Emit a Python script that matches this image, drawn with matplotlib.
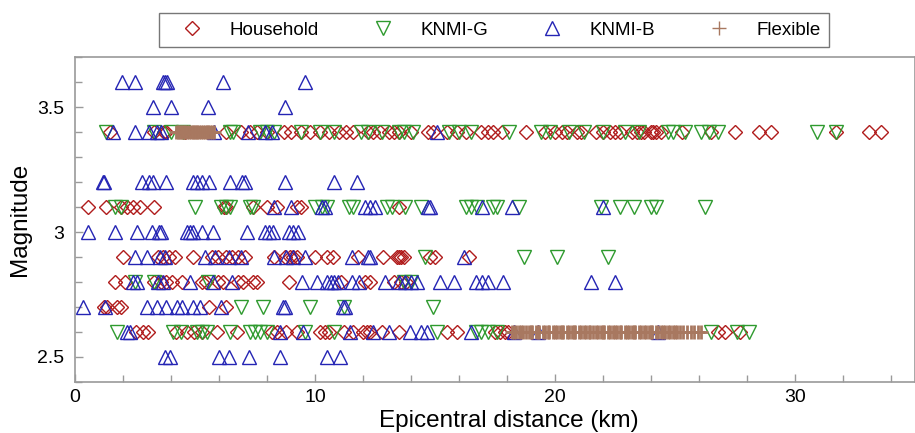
import numpy as np
import matplotlib
matplotlib.use("Agg")
import matplotlib.pyplot as plt
from matplotlib.ticker import MultipleLocator

plt.rcParams["font.family"] = ["Liberation Sans", "DejaVu Sans"]

# === Data: epicentral distance (km) per magnitude level ===
household = {
    3.4: [1.45, 3.3, 3.7, 3.8, 4.6, 6.3, 6.9, 7.3, 7.6, 8.0, 8.7, 9.0, 9.4, 9.8, 10.2, 10.6,
          11.0, 11.3, 11.6, 12.2, 12.4, 12.7, 13.1, 13.3, 13.5, 14.0, 14.7, 14.9, 15.5, 15.9,
          16.3, 16.9, 17.2, 17.4, 17.8, 18.8, 19.6, 20.0, 20.3, 20.5, 20.9, 21.1, 21.7, 22.0,
          22.3, 22.5, 22.7, 23.2, 23.4, 23.6, 23.7, 24.0, 24.1, 24.2, 24.4, 25.3, 26.5, 27.5,
          28.5, 29.0, 31.7, 33.1, 33.6],
    3.1: [0.55, 1.3, 1.9, 2.15, 2.4, 2.7, 3.3, 6.2, 6.3, 7.4, 8.0, 8.4, 9.25, 9.4, 13.5],
    2.9: [2.0, 3.45, 3.65, 3.9, 4.15, 4.9, 5.7, 5.95, 6.3, 6.55, 6.8, 7.1, 8.3, 8.75, 8.95,
          9.1, 9.25, 10.0, 10.5, 10.75, 11.8, 12.85, 13.4, 13.5, 13.6, 13.7, 14.8, 15.0, 16.4],
    2.8: [1.65, 2.1, 3.3, 3.6, 3.8, 4.05, 4.45, 5.3, 5.45, 5.95, 6.15, 6.8, 7.0, 7.4, 7.6,
          8.9, 11.1, 12.1, 12.3, 13.3, 13.6, 13.8],
    2.7: [1.2, 1.35, 1.75, 1.9, 5.6, 6.3],
    2.6: [2.55, 2.85, 3.05, 4.2, 4.65, 4.95, 5.3, 5.9, 6.75, 8.2, 8.4, 8.8, 9.25, 10.2, 10.4,
          10.6, 11.2, 11.6, 12.0, 12.15, 12.3, 12.8, 13.5, 15.5, 15.9, 17.5, 17.7, 17.9, 18.05,
          26.8, 27.1, 27.7],
}

knmi_g = {
    3.4: [1.3, 3.3, 4.0, 4.5, 6.45, 6.6, 7.7, 8.0, 8.3, 9.4, 10.2, 10.8, 11.9, 12.2, 12.8,
          13.5, 13.7, 14.1, 15.6, 16.0, 16.5, 18.1, 19.4, 19.8, 20.6, 21.2, 22.0, 22.9, 23.5,
          24.7, 24.9, 25.4, 26.1, 26.4, 26.8, 30.9, 31.7],
    3.1: [1.65, 1.9, 5.0, 6.1, 6.3, 6.45, 7.3, 7.4, 10.0, 10.3, 10.5, 11.4, 11.6, 13.0, 13.2,
          13.75, 14.4, 16.3, 16.5, 16.75, 17.4, 17.6, 18.5, 21.9, 22.7, 23.3, 24.0, 24.2, 26.25],
    2.9: [14.6, 18.7, 20.1, 22.2],
    2.8: [2.5, 3.3, 5.55, 13.7, 14.0],
    2.7: [6.9, 7.85, 9.8, 11.2, 14.9],
    2.6: [1.75, 4.1, 4.4, 5.1, 5.3, 5.5, 6.45, 7.3, 7.5, 7.7, 8.0, 9.6, 10.8, 15.1, 16.7,
          16.9, 17.2, 17.6, 26.5, 27.6, 28.1],
}

knmi_b = {
    3.6: [1.95, 2.5, 3.68, 3.75, 3.82, 6.18, 9.57],
    3.5: [3.26, 3.99, 5.56, 8.75],
    3.4: [1.6, 2.5, 3.1, 3.4, 3.6, 5.8, 7.2, 7.9, 8.2, 15.1],
    3.2: [1.15, 1.2, 2.8, 3.1, 3.25, 3.8, 4.9, 5.1, 5.3, 5.6, 6.45, 6.95, 7.1, 8.75, 10.8, 11.75],
    3.1: [8.3, 9.0, 10.3, 10.4, 12.1, 12.3, 12.5, 14.7, 14.8, 16.95, 18.2, 22.0],
    3.0: [0.55, 1.65, 2.6, 3.2, 3.5, 3.6, 4.65, 4.8, 4.9, 5.3, 5.75, 7.15, 7.9, 8.1, 8.25,
          8.9, 9.1, 9.3],
    2.9: [2.5, 3.0, 3.55, 3.75, 5.4, 5.85, 6.4, 6.9, 8.3, 8.8, 9.1, 9.6, 11.55, 12.2, 12.3, 16.2],
    2.8: [2.4, 2.6, 3.45, 3.65, 4.8, 5.75, 6.55, 9.45, 10.1, 10.5, 10.65, 10.8, 10.95, 11.55,
          11.85, 12.9, 13.5, 13.75, 14.0, 14.25, 15.2, 15.8, 16.7, 16.95, 17.2, 17.85, 21.5, 22.5],
    2.7: [0.35, 1.25, 3.0, 3.4, 3.8, 4.25, 4.45, 4.9, 5.2, 6.1, 8.65, 8.75, 11.15, 11.25],
    2.6: [2.15, 2.3, 8.55, 9.5, 11.45, 12.4, 13.1, 13.95, 14.4, 14.65, 16.5, 18.3, 19.3, 24.3],
    2.5: [3.75, 3.95, 6.0, 6.4, 7.25, 8.55, 10.5, 11.05],
}

flexible = {
    3.4: [4.2, 4.28, 4.35, 4.4, 4.47, 4.55, 4.6, 4.68, 4.75, 4.83, 4.9, 4.97, 5.05, 5.1,
          5.18, 5.25, 5.33, 5.4, 5.48, 5.55, 5.62, 5.7, 5.78],
    2.6: [18.2, 18.3, 18.38, 18.5, 18.6, 18.65, 18.8, 18.9, 19.0, 19.05, 19.2, 19.3, 19.35,
          19.5, 19.6, 19.7, 19.75, 19.9, 20.0, 20.1, 20.2, 20.3, 20.35, 20.5, 20.6, 20.7, 20.8,
          20.85, 21.0, 21.1, 21.2, 21.3, 21.4, 21.45, 21.6, 21.7, 21.8, 21.9, 22.0, 22.05,
          22.2, 22.3, 22.4, 22.5, 22.6, 22.7, 22.75, 22.9, 23.0, 23.1, 23.2, 23.3, 23.35,
          23.5, 23.6, 23.7, 23.8, 23.9, 24.0, 24.05, 24.2, 24.3, 24.4, 24.5, 24.6, 24.7,
          24.8, 24.9, 25.0, 25.1, 25.2, 25.35, 25.5, 25.65, 25.8, 25.95, 26.1],
}


def flatten(d):
    xs, ys = [], []
    for mag, dists in d.items():
        xs += dists
        ys += [mag] * len(dists)
    return np.array(xs), np.array(ys)


# === Plot ===
fig = plt.figure(figsize=(9.15, 4.33), dpi=100)
ax = fig.add_axes([0.082, 0.118, 0.918, 0.75])

gray = "#9a9a9a"
series = [
    (household, "Household", "D", "#b01c1c", 7.3, 1.0),
    (knmi_g, "KNMI-G", "v", "#2e9a2e", 10, 1.0),
    (knmi_b, "KNMI-B", "^", "#2424b4", 10, 1.0),
    (flexible, "Flexible", "+", "#a87860", 10, 2.0),
]
handles = []
for data, label, marker, color, ms, mew in series:
    x, y = flatten(data)
    ax.plot(x, y, linestyle="none", marker=marker, markersize=ms, color=color,
            markerfacecolor="none", markeredgewidth=mew)
    # legend proxy with thin lines
    h, = ax.plot([], [], linestyle="none", marker=marker, markersize=ms, color=color,
                 markerfacecolor="none", markeredgewidth=1.0, label=label)
    handles.append(h)

ax.set_xlim(0, 35)
ax.set_ylim(2.4, 3.7)
ax.xaxis.set_major_locator(MultipleLocator(10))
ax.xaxis.set_minor_locator(MultipleLocator(2))
ax.yaxis.set_major_locator(MultipleLocator(0.5))
ax.yaxis.set_minor_locator(MultipleLocator(0.1))
ax.yaxis.set_major_formatter(plt.FuncFormatter(lambda v, p: f"{v:g}"))

for s in ax.spines.values():
    s.set_color(gray)
    s.set_linewidth(1.2)
ax.tick_params(which="both", direction="in", color=gray, labelsize=14, width=1.0)
ax.tick_params(which="major", length=6, pad=5)
ax.tick_params(which="minor", length=5)
ax.tick_params(axis="y", pad=8)

ax.set_xlabel("Epicentral distance (km)", fontsize=17.5)
ax.xaxis.set_label_coords(0.517, -0.088)
ax.set_ylabel("Magnitude", fontsize=17.5, labelpad=4)

leg = fig.legend(handles=handles, loc="center", bbox_to_anchor=(0.540, 0.930), ncol=4,
                 fontsize=13.5, frameon=True, fancybox=False, edgecolor="#555555",
                 handlelength=2.6, handletextpad=0.7, columnspacing=2.1, borderpad=0.45)
leg.get_frame().set_linewidth(1.0)

fig.savefig("out.png", dpi=100)
